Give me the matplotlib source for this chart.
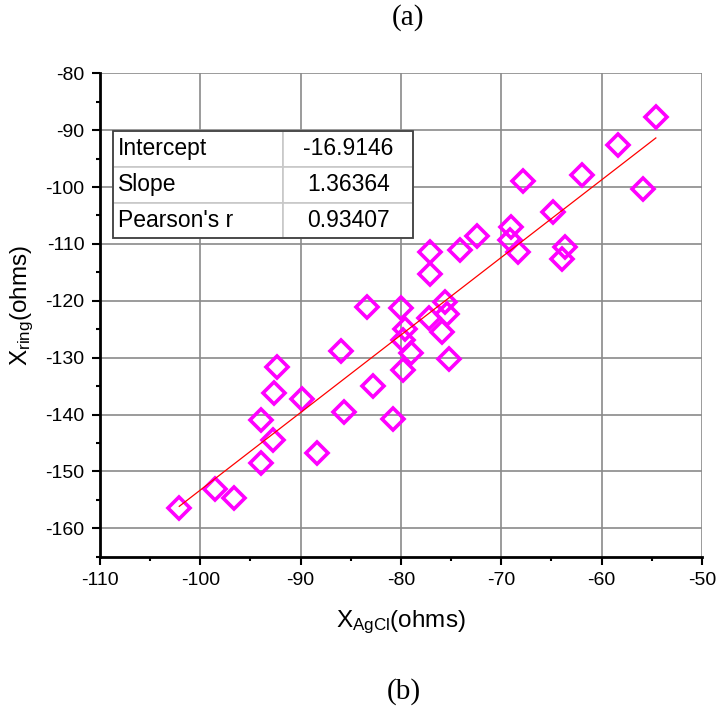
import matplotlib
matplotlib.use("Agg")
import matplotlib.pyplot as plt
from matplotlib.patches import Rectangle
from matplotlib.ticker import MultipleLocator

plt.rcParams['font.family'] = ['Liberation Sans', 'DejaVu Sans']
plt.rcParams['mathtext.fontset'] = 'custom'
plt.rcParams['mathtext.rm'] = 'Liberation Sans'
plt.rcParams['mathtext.it'] = 'Liberation Sans:italic'
plt.rcParams['axes.unicode_minus'] = False

# ---- data ----
x_agcl = [-102.1, -98.5, -96.6, -94.0, -94.0, -92.8, -92.7, -92.4, -89.9, -88.4,
          -86.0, -85.7, -83.4, -82.8, -80.8, -80.0, -79.6, -79.8, -79.0, -79.8,
          -77.1, -77.1, -77.2, -75.6, -75.4, -75.9, -75.2, -74.1, -72.4, -69.0,
          -69.1, -68.3, -67.8, -64.9, -63.7, -64.0, -62.0, -58.4, -55.9, -54.6]
x_ring = [-156.5, -153.1, -154.7, -148.6, -141.0, -144.5, -136.2, -131.6, -137.3, -146.7,
          -128.9, -139.6, -121.1, -134.9, -140.7, -121.2, -125.0, -126.9, -129.1, -132.1,
          -111.4, -115.3, -123.0, -120.3, -122.4, -125.5, -130.2, -111.1, -108.6, -107.0,
          -109.3, -111.5, -99.0, -104.4, -110.6, -112.7, -97.9, -92.6, -100.4, -87.7]

fit_names = ["Intercept", "Slope", "Pearson's r"]
fit_values = ["-16.9146", "1.36364", "0.93407"]
intercept = -16.9146
slope = 1.36364

x_ticks = [-110, -100, -90, -80, -70, -60, -50]
y_ticks = [-80, -90, -100, -110, -120, -130, -140, -150, -160]

# ---- figure ----
fig = plt.figure(figsize=(7.17, 7.17), dpi=100)
ax = fig.add_axes([100/717, 1-556.7/717, 602/717, 483.4/717])

ax.set_xlim(-110, -50)
ax.set_ylim(-165, -80)
ax.set_xticks(x_ticks)
ax.set_yticks(y_ticks)
ax.xaxis.set_minor_locator(MultipleLocator(5))
ax.yaxis.set_minor_locator(MultipleLocator(5))

for s in ['top', 'right']:
    ax.spines[s].set_visible(False)
for s in ['left', 'bottom']:
    ax.spines[s].set_linewidth(2.0)

ax.tick_params(which='major', direction='out', length=6, width=1.5,
               labelsize=14, pad=5)
ax.tick_params(which='minor', direction='out', length=3, width=1.5)

ax.grid(True, which='major', color='#8a8a8a', linewidth=1.2, zorder=0)
ax.set_axisbelow(True)
# hide gridlines lying on the axes limits (top/right edges)
for t in ax.yaxis.get_major_ticks():
    if abs(t.get_loc() - (-80)) < 1e-6:
        t.gridline.set_visible(False)
for t in ax.xaxis.get_major_ticks():
    if abs(t.get_loc() - (-50)) < 1e-6 or abs(t.get_loc() - (-110)) < 1e-6:
        t.gridline.set_visible(False)

ax.plot(x_agcl, x_ring, linestyle='none', marker='D', markersize=11.5,
        markerfacecolor='none', markeredgecolor='#ff00ff', markeredgewidth=2.6,
        zorder=3)

xl = [min(x_agcl), max(x_agcl)]
ax.plot(xl, [intercept + slope * v for v in xl], color='#ff0000', linewidth=0.9,
        zorder=4)

# fit table
tbl = ax.table(cellText=[[n, v] for n, v in zip(fit_names, fit_values)],
               colWidths=[170.3, 130.3], cellLoc='center',
               bbox=[12.7/602, (556.7-238.3)/483.4, 300.6/602, 107.3/483.4],
               zorder=5)
tbl.auto_set_font_size(False)
for (r, c), cell in tbl.get_celld().items():
    cell.set_edgecolor('#c8c8c8')
    cell.set_linewidth(1.2)
    cell.set_facecolor('white')
    cell.get_text().set_fontsize(16.5)
    cell.PAD = 0.03
    if c == 0:
        cell.get_text().set_ha('left')
        cell._loc = 'left'
    else:
        cell.get_text().set_ha('center')
        cell._loc = 'center'
ax.add_patch(Rectangle((12.7/602, (556.7-238.3)/483.4), 300.6/602, 107.3/483.4,
                       transform=ax.transAxes, fill=False, edgecolor='#404040',
                       linewidth=1.3, zorder=6, clip_on=False))

fig.text(401/717, 1-627/717, r'X$_{\mathrm{AgCl}}$(ohms)', ha='center',
         va='baseline', fontsize=17.5)
fig.text(22/717, 1-305/717, r'X$_{\mathrm{ring}}$(ohms)', ha='center',
         va='center', rotation=90, fontsize=17.5)

fig.text(408/717, 1-18/717, '(a)', ha='center', va='center', fontsize=21,
         family='Liberation Serif')
fig.text(404/717, 1-692/717, '(b)', ha='center', va='center', fontsize=21,
         family='Liberation Serif')

fig.savefig('out.png', dpi=100, facecolor='white')
